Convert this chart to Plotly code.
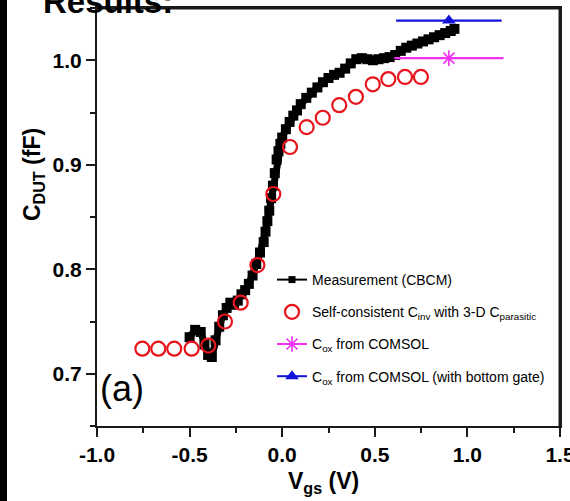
import base64
import struct
import zlib

import plotly.graph_objects as go

# ---------------- data ----------------
meas_x = [-0.50, -0.47, -0.44, -0.42, -0.40, -0.38, -0.36, -0.34, -0.32, -0.30,
          -0.28, -0.26, -0.24, -0.22, -0.20, -0.18, -0.16, -0.14, -0.12, -0.10,
          -0.09, -0.08, -0.07, -0.06, -0.05, -0.04, -0.03, -0.02, -0.01, 0.00,
          0.02, 0.04, 0.06, 0.08, 0.10, 0.13, 0.16, 0.19, 0.22, 0.25,
          0.28, 0.31, 0.34, 0.37, 0.40, 0.43, 0.46, 0.49, 0.52, 0.55,
          0.58, 0.61, 0.64, 0.67, 0.70, 0.73, 0.76, 0.79, 0.82, 0.85,
          0.88, 0.91, 0.93]
meas_y = [0.735, 0.742, 0.740, 0.728, 0.718, 0.716, 0.732, 0.745, 0.756, 0.763,
          0.768, 0.766, 0.770, 0.776, 0.780, 0.786, 0.794, 0.805, 0.816, 0.826,
          0.836, 0.846, 0.856, 0.868, 0.880, 0.892, 0.905, 0.913, 0.920, 0.926,
          0.934, 0.941, 0.947, 0.952, 0.958, 0.964, 0.969, 0.974, 0.979, 0.983,
          0.986, 0.988, 0.992, 0.997, 1.001, 1.002, 1.001, 1.000, 1.001, 1.002,
          1.003, 1.005, 1.009, 1.012, 1.014, 1.016, 1.018, 1.020, 1.022, 1.024,
          1.026, 1.028, 1.030]

sc_x = [-0.755, -0.669, -0.583, -0.489, -0.399, -0.309, -0.224, -0.134, -0.048,
        0.042, 0.132, 0.219, 0.308, 0.398, 0.489, 0.573, 0.663, 0.749]
sc_y = [0.724, 0.724, 0.724, 0.724, 0.727, 0.750, 0.768, 0.804, 0.872,
        0.917, 0.936, 0.945, 0.957, 0.965, 0.977, 0.982, 0.984, 0.984]

cox_x = [0.90]
cox_y = [1.002]
cox_err = [0.295]

coxbg_x = [0.90]
coxbg_y = [1.038]
coxbg_err = [0.285]

x_ticks = [-1.0, -0.5, 0.0, 0.5, 1.0, 1.5]
x_ticklabels = ["-1.0", "-0.5", "0.0", "0.5", "1.0", "1.5"]
y_ticks = [0.7, 0.8, 0.9, 1.0]
y_ticklabels = ["0.7", "0.8", "0.9", "1.0"]
x_range = [-1.0, 1.5]
y_range = [0.65, 1.05]

# ---------------- layout helpers ----------------
W, H = 570, 501
ML, MR, MT, MB = 97, 10, 8, 75
PW, PH = W - ML - MR, H - MT - MB


def px(xp):
    return (xp - ML) / PW


def py(yp):
    return (H - MB - yp) / PH


def solid_png(r, g, b):
    raw = b"\x00" + bytes([r, g, b])

    def chunk(tag, data):
        return (struct.pack(">I", len(data)) + tag + data
                + struct.pack(">I", zlib.crc32(tag + data) & 0xFFFFFFFF))

    png = (b"\x89PNG\r\n\x1a\n"
           + chunk(b"IHDR", struct.pack(">IIBBBBB", 1, 1, 8, 2, 0, 0, 0))
           + chunk(b"IDAT", zlib.compress(raw))
           + chunk(b"IEND", b""))
    return "data:image/png;base64," + base64.b64encode(png).decode()


AXIS = "#1a1a1a"
FONT = "Liberation Sans, Arial"

fig = go.Figure()

# thick dense band of the measurement (plot only)
fig.add_trace(go.Scatter(
    x=meas_x, y=meas_y, mode="lines+markers", showlegend=False,
    line=dict(color="black", width=7),
    marker=dict(symbol="square", size=10, color="black"),
    hoverinfo="skip"))
# same data, thin style (gives the legend its "-■-" symbol)
fig.add_trace(go.Scatter(
    x=meas_x, y=meas_y, mode="lines+markers", name="Measurement (CBCM)",
    line=dict(color="black", width=2),
    marker=dict(symbol="square", size=7, color="black"),
    legendgroup="a"))

fig.add_trace(go.Scatter(
    x=sc_x, y=sc_y, mode="markers",
    name="Self-consistent C<sub>inv</sub> with 3-D C<sub>parasitic</sub>",
    marker=dict(symbol="circle-open", size=14, color="#e8141c",
                line=dict(width=2.2, color="#e8141c")),
    legendgroup="b"))

fig.add_trace(go.Scatter(
    x=cox_x, y=cox_y, mode="lines+markers", name="C<sub>ox</sub> from COMSOL",
    line=dict(color="#f030f0", width=2),
    marker=dict(symbol="asterisk-open", size=13, color="#f030f0",
                line=dict(width=1.6, color="#f030f0")),
    error_x=dict(type="data", array=cox_err, color="#f030f0", thickness=2.2, width=0),
    legendgroup="c"))

fig.add_trace(go.Scatter(
    x=coxbg_x, y=coxbg_y, mode="lines+markers",
    name="C<sub>ox</sub> from COMSOL (with bottom gate)",
    line=dict(color="#1414d8", width=2),
    marker=dict(symbol="triangle-up", size=12, color="#1414d8"),
    error_x=dict(type="data", array=coxbg_err, color="#1414d8", thickness=2.2, width=0),
    legendgroup="d"))

tickfont = dict(family=FONT, size=21, color="black", weight="bold")

fig.update_xaxes(
    range=x_range, tickvals=x_ticks, ticktext=x_ticklabels,
    showline=True, linecolor=AXIS, linewidth=2, mirror=True,
    ticks="outside", ticklen=9, tickwidth=2, tickcolor=AXIS,
    minor=dict(ticks="outside", ticklen=5, tickwidth=1.5, tickcolor=AXIS, dtick=0.25,
               showgrid=False),
    ticklabeloverflow="allow",
    showgrid=False, zeroline=False, tickfont=tickfont)
fig.update_yaxes(
    range=y_range, tickvals=y_ticks, ticktext=y_ticklabels,
    showline=True, linecolor=AXIS, linewidth=2, mirror=True,
    ticks="outside", ticklen=9, tickwidth=2, tickcolor=AXIS,
    minor=dict(ticks="outside", ticklen=5, tickwidth=1.5, tickcolor=AXIS, dtick=0.05,
               showgrid=False),
    ticklabeloverflow="allow",
    showgrid=False, zeroline=False, tickfont=tickfont)


def bar_note(x_px, y_px, w, h, color):
    """A solid filled box placed in pixel position (used for the edge strip)."""
    return dict(text=" ", xref="paper", yref="paper", x=px(x_px), y=py(y_px),
                xanchor="left", yanchor="top", showarrow=False, width=w, height=h,
                bgcolor=color, borderpad=0, borderwidth=0, font=dict(size=2))


BLACK_PNG = solid_png(26, 26, 26)

fig.update_layout(
    width=W, height=H,
    margin=dict(l=ML, r=MR, t=MT, b=MB, pad=0, autoexpand=False),
    paper_bgcolor="white", plot_bgcolor="white",
    showlegend=True,
    # extra top / right axes used only to draw the frame lines of the box
    xaxis2=dict(overlaying="x", side="top", anchor="y", range=x_range,
                showline=True, linecolor=AXIS, linewidth=2, ticks="",
                showticklabels=False, showgrid=False, zeroline=False),
    yaxis2=dict(overlaying="y", side="right", anchor="x", range=y_range,
                showline=True, linecolor=AXIS, linewidth=2, ticks="",
                showticklabels=False, showgrid=False, zeroline=False),
    legend=dict(x=px(272), y=py(264), xanchor="left", yanchor="top",
                bgcolor="rgba(0,0,0,0)", borderwidth=0,
                font=dict(family=FONT, size=14, color="black"),
                tracegroupgap=11, itemwidth=30),
    shapes=[
        dict(type="line", xref="x", yref="y", x0=x_range[0], x1=x_range[1],
             y0=y_range[1], y1=y_range[1], line=dict(color=AXIS, width=3)),
        dict(type="line", xref="x", yref="y", x0=x_range[1], x1=x_range[1],
             y0=y_range[0], y1=y_range[1], line=dict(color=AXIS, width=3)),
    ],
    images=[
        dict(source=BLACK_PNG, xref="paper", yref="paper", x=px(559), y=py(7),
             sizex=2 / PW, sizey=420 / PH, sizing="stretch",
             xanchor="left", yanchor="top", layer="above"),
    ],
    annotations=[
        dict(text="Results:", xref="paper", yref="paper", x=px(41), y=py(22),
             xanchor="left", yanchor="bottom", showarrow=False,
             font=dict(family=FONT, size=33, color="black", weight="bold")),
        dict(text="(a)", xref="paper", yref="paper", x=px(122), y=py(388),
             xanchor="center", yanchor="middle", showarrow=False,
             font=dict(family=FONT, size=36, color="black")),
        dict(text="C<sub>DUT</sub> (fF)", xref="paper", yref="paper", x=px(33), y=py(175),
             xanchor="center", yanchor="middle", textangle=-90, showarrow=False,
             font=dict(family=FONT, size=23, color="black", weight="bold")),
        dict(text="V<sub>gs</sub> (V)", xref="paper", yref="paper", x=px(323), y=py(483),
             xanchor="center", yanchor="middle", showarrow=False,
             font=dict(family=FONT, size=23, color="black", weight="bold")),
        bar_note(0, -10, 7, 520, "black"),
    ],
)

fig.write_html("out.html", config={"displayModeBar": False},
               post_script="document.body.style.margin='0';")
